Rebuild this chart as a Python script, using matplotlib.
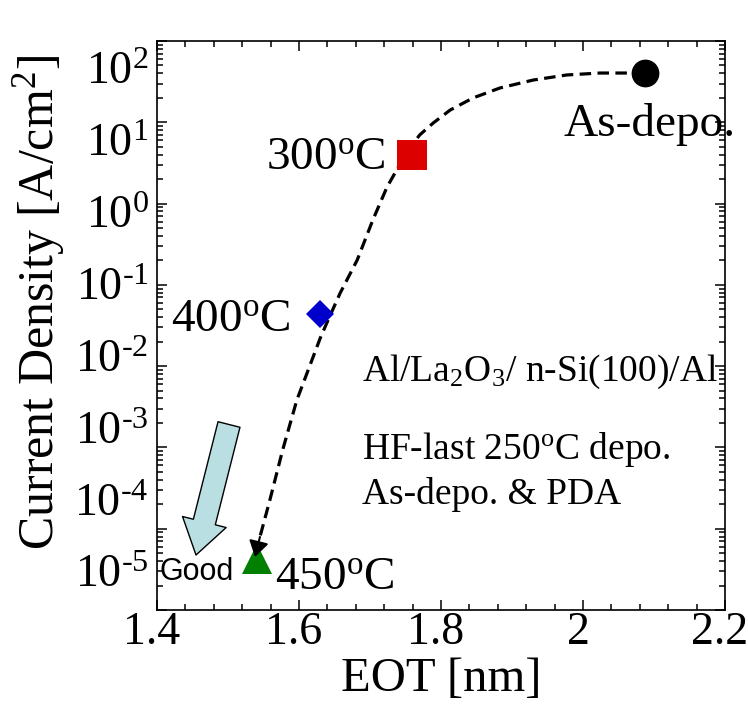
import numpy as np
import matplotlib
matplotlib.use("Agg")
import matplotlib.pyplot as plt
from matplotlib.ticker import LogLocator, MultipleLocator, FixedLocator, FixedFormatter, NullFormatter
from matplotlib.patches import FancyArrowPatch
from matplotlib.transforms import ScaledTranslation

plt.rcParams['font.family'] = ['Liberation Serif', 'DejaVu Serif']
plt.rcParams['mathtext.fontset'] = 'custom'
plt.rcParams['mathtext.rm'] = 'Liberation Serif'
plt.rcParams['mathtext.it'] = 'Liberation Serif:italic'
plt.rcParams['mathtext.bf'] = 'Liberation Serif:bold'

# ---- data ----
labels = ["As-depo.", "300$^{\\mathrm{o}}$C", "400$^{\\mathrm{o}}$C", "450$^{\\mathrm{o}}$C"]
eot = [2.087, 1.759, 1.630, 1.541]
jg = [40.0, 3.96, 0.0438, 4.3e-5]
markers = ['o', 's', 'D', '^']
colors = ['#000000', '#dd0000', '#0000cc', '#007f00']
msizes = [20, 21, 14.5, 21]

# guide curve (x, log10 J)
curve_x = [2.087, 2.024, 1.977, 1.930, 1.883, 1.845, 1.813, 1.789, 1.770, 1.752,
           1.724, 1.704, 1.682, 1.658, 1.641, 1.630, 1.597, 1.577, 1.559, 1.545]
curve_logy = [1.606, 1.606, 1.582, 1.520, 1.422, 1.299, 1.151, 0.991, 0.844, 0.635,
              0.204, -0.202, -0.694, -1.100, -1.432, -1.653, -2.416, -3.031, -3.646, -4.101]
arrow_tip = (1.538, -4.347)

xticks = [1.4, 1.6, 1.8, 2.0, 2.2]
xticklabels = ["1.4", "1.6", "1.8", "2", "2.2"]
yexp = [2, 1, 0, -1, -2, -3, -4, -5]
yticks = [10.0 ** e for e in yexp]
yticklabels = ["10$^{\\text{%d}}$" % e for e in yexp]

W, H = 748, 713
fig = plt.figure(figsize=(W / 100, H / 100), dpi=100)
ax = fig.add_axes([157 / W, 1 - 610 / H, 568 / W, 569 / H])

ax.set_yscale('log')
ax.set_xlim(1.4, 2.2)
ax.set_ylim(1e-5, 1e2)

# dashed curve
cy = [10 ** v for v in curve_logy]
ax.plot(curve_x, cy, color='black', lw=2.3, linestyle=(0, (3.6, 2.0)), zorder=3)
arr = FancyArrowPatch((curve_x[-1], cy[-1]), (arrow_tip[0], 10 ** arrow_tip[1]),
                      arrowstyle='-|>,head_length=0.95,head_width=0.6', mutation_scale=10,
                      color='black', lw=1.5, shrinkA=0, shrinkB=0, zorder=5)
ax.add_patch(arr)

for x, y, m, c, s in zip(eot, jg, markers, colors, msizes):
    ax.plot([x], [y], marker=m, color=c, markersize=s, markeredgewidth=0, zorder=4,
            clip_on=False)

# labels for points
ax.text(2.094, 9.3, labels[0], fontsize=34, ha='center', va='center')
ax.text(1.722, 10 ** 0.56, labels[1], fontsize=34, ha='right', va='center')
ax.text(1.588, 10 ** -1.43, labels[2], fontsize=34, ha='right', va='center')
ax.text(1.566, 10 ** -4.6, labels[3], fontsize=34, ha='left', va='center')

ax.text(1.689, 10 ** -2.07, "Al/La$_{\\mathrm{2}}$O$_{\\mathrm{3}}$/ n-Si(100)/Al", fontsize=27,
        ha='left', va='center')
ax.text(1.689, 10 ** -3.03, "HF-last 250$^{\\mathrm{o}}$C depo.", fontsize=27, ha='left', va='center')
ax.text(1.689, 10 ** -3.58, "As-depo. & PDA", fontsize=27, ha='left', va='center')

ax.text(1.404, 10 ** -4.53, "Good", fontsize=22, family=['Liberation Sans', 'DejaVu Sans'],
        ha='left', va='center')

# big "Good" arrow (figure pixels)
ax.annotate('', xy=(196, H - 555), xycoords='figure pixels',
            xytext=(229, H - 424.5), textcoords='figure pixels',
            arrowprops=dict(arrowstyle='simple,head_length=24.5,head_width=32.4,tail_width=16.3',
                            mutation_scale=1, fc='#b9dfe3', ec='black', lw=1,
                            shrinkA=0, shrinkB=0))

# axes styling
ax.xaxis.set_major_locator(FixedLocator(xticks))
ax.xaxis.set_major_formatter(FixedFormatter(xticklabels))
ax.xaxis.set_minor_locator(MultipleLocator(0.04))
ax.yaxis.set_major_locator(FixedLocator(yticks))
ax.yaxis.set_major_formatter(FixedFormatter(yticklabels))
ax.yaxis.set_minor_locator(LogLocator(base=10, subs=np.arange(2, 10), numticks=20))
ax.yaxis.set_minor_formatter(NullFormatter())

ax.tick_params(which='both', direction='in', top=True, right=True, width=1.1)
ax.tick_params(which='major', length=7.5)
ax.tick_params(which='minor', length=4)
ax.tick_params(axis='x', which='major', labelsize=33, pad=1)
ax.tick_params(axis='y', which='major', labelsize=33, pad=6)
for sp in ax.spines.values():
    sp.set_linewidth(1.2)

# tick labels in the reference sit slightly off their ticks (compressed column)
ymaj = ax.yaxis.get_major_ticks(len(yticks))
for i, t in enumerate(ymaj):
    dy_px = 27 - 9.4 * i        # downward shift in pixels
    t.label1.set_transform(t.label1.get_transform() +
                           ScaledTranslation(0, -dy_px / 100, fig.dpi_scale_trans))
xmaj = ax.xaxis.get_major_ticks(len(xticks))
for t in xmaj:
    t.label1.set_transform(t.label1.get_transform() +
                           ScaledTranslation(-5 / 100, 0, fig.dpi_scale_trans))

ax.set_xlabel("EOT [nm]", fontsize=35, labelpad=2)
ax.set_ylabel("Current Density [A/cm$^{\\mathrm{2}}$]", fontsize=36)
ax.yaxis.set_label_coords(-0.158, 0.541)

fig.savefig("out.png", dpi=100)
